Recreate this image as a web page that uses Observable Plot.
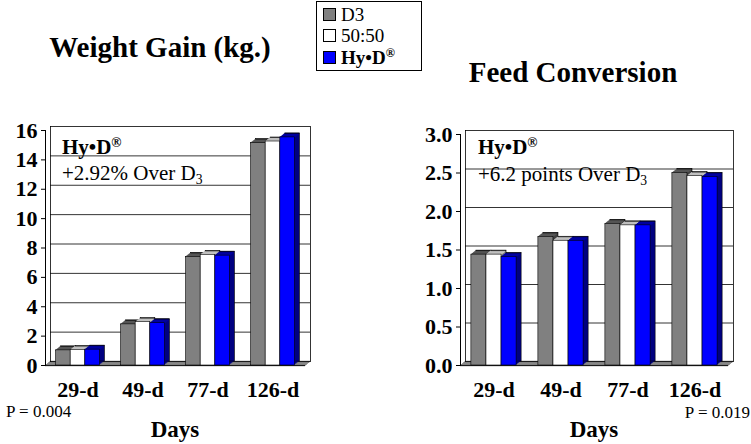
<!DOCTYPE html>
<html><head><meta charset="utf-8">
<script src="https://cdn.jsdelivr.net/npm/d3@7"></script>
<script src="https://cdn.jsdelivr.net/npm/@observablehq/plot@0.6"></script>
<style>
body{margin:0;background:#fff;}
#wrap{position:relative;width:751px;height:444px;overflow:hidden;font-family:"Liberation Serif","Times New Roman",serif;color:#000;background:#fff;}
#wrap svg{position:absolute;left:0;top:0;}
#wrap svg text, #wrap svg g[aria-label$="tick label"]{font-family:"Liberation Serif","Times New Roman",serif !important;font-weight:bold !important;font-size:22px !important;font-variant:normal !important;}
.t{position:absolute;white-space:nowrap;line-height:1;}
.b{font-weight:bold;}
sup{font-size:0.65em;vertical-align:0.55em;line-height:0;}
sub{font-size:0.65em;vertical-align:-0.3em;line-height:0;}
#legend{position:absolute;left:316px;top:1px;width:104px;height:68px;border:1px solid #000;background:#fff;}
#legend .row{position:absolute;left:6px;height:20px;display:flex;align-items:center;font-size:19px;line-height:1;}
#legend .sw{width:11px;height:11px;border:1px solid #000;margin-right:5px;}
</style></head><body><div id="wrap"></div>
<script>
// ---- data ----
const days = ["29-d", "49-d", "77-d", "126-d"];
const series = ["D3", "50:50", "Hy•D®"];
const gainD3   = [1.03, 2.80, 7.39, 15.14];
const gain5050 = [1.05, 2.95, 7.53, 15.25];
const gainHyD  = [1.08, 2.88, 7.48, 15.53];
const fcD3     = [1.44, 1.67, 1.84, 2.50];
const fc5050   = [1.44, 1.62, 1.82, 2.46];
const fcHyD    = [1.41, 1.62, 1.82, 2.45];
const gainTicks = [0, 2, 4, 6, 8, 10, 12, 14, 16];
const fcTicks   = [0, 0.5, 1.0, 1.5, 2.0, 2.5, 3.0];

// ---- styles ----
const frontColor = ["#808080", "#ffffff", "#0000ff"];
const topColor   = ["#555555", "#c0c0c0", "#0000a0"];
const sideColor  = ["#404040", "#808080", "#000080"];

const W = 751, H = 444;
const wrap = document.getElementById("wrap");

function chart({vals, ticks, fmt, mL, mR, mT, mB}) {
  const bw = (W - mL - mR) / days.length;
  const barW = bw * 0.225;
  const off = (bw - 3 * barW) / 2;
  const depth = 5, dz = 4;
  const rows = vals.map((arr, i) => arr.map((v, j) => ({day: days[j], value: v, series: series[i]})));
  const marks = [];
  // floor
  for (let k = 0; k <= depth; k++)
    marks.push(Plot.ruleY([0], {dx: k, dy: -k * dz / depth, stroke: "#808080", strokeWidth: 1.5}));
  marks.push(Plot.ruleY([0], {stroke: "#000", strokeWidth: 0.8}));
  marks.push(Plot.ruleY([0], {dx: depth, dy: -dz, stroke: "#000", strokeWidth: 0.8}));
  // back-wall gridlines
  marks.push(Plot.ruleY(ticks.filter(t => t > 0), {dx: depth, dy: -dz, stroke: "#000", strokeWidth: 0.8}));
  // walls
  marks.push(Plot.frame({anchor: "left", dx: depth, dy: -dz, stroke: "#000", strokeWidth: 0.8}));
  marks.push(Plot.frame({anchor: "right", dx: depth, dy: -dz, stroke: "#000", strokeWidth: 0.8}));
  marks.push(Plot.frame({anchor: "left", stroke: "#000", strokeWidth: 1}));
  rows.forEach((data, i) => {
    const inset = {insetLeft: off + i * barW, insetRight: bw - off - (i + 1) * barW};
    for (let k = 1; k <= depth; k++)
      marks.push(Plot.barY(data, {x: "day", y: "value", ...inset, dx: k, dy: -k * dz / depth, fill: sideColor[i]}));
    marks.push(Plot.barY(data, {x: "day", y: "value", ...inset, dx: depth, dy: -dz, fill: "none", stroke: "#000", strokeWidth: 0.6}));
    for (let k = 0; k < depth; k++)
      marks.push(Plot.tickY(data, {x: "day", y: "value", ...inset, dx: k, dy: -k * dz / depth, stroke: topColor[i], strokeWidth: 1.5}));
    marks.push(Plot.tickY(data, {x: "day", y: "value", ...inset, dx: depth, dy: -dz, stroke: "#000", strokeWidth: 0.6}));
    marks.push(Plot.barY(data, {x: "day", y: "value", ...inset, fill: frontColor[i], stroke: "#000", strokeWidth: 0.6}));
  });
  return Plot.plot({
    width: W, height: H,
    marginLeft: mL, marginRight: mR, marginTop: mT, marginBottom: mB,
    style: {fontFamily: "Liberation Serif, Times New Roman, serif", fontSize: "22px", fontWeight: "bold", background: "transparent", overflow: "visible"},
    x: {domain: days, padding: 0, tickSize: 0, tickPadding: 16, label: null},
    y: {domain: [ticks[0], ticks[ticks.length - 1]], ticks, tickFormat: fmt, tickSize: 4, tickPadding: 4, label: null},
    marks
  });
}

wrap.appendChild(chart({vals: [gainD3, gain5050, gainHyD], ticks: gainTicks, fmt: d3.format("d"), mL: 45, mR: 446, mT: 130, mB: 79}));
wrap.appendChild(chart({vals: [fcD3, fc5050, fcHyD], ticks: fcTicks, fmt: d3.format(".1f"), mL: 460, mR: 23, mT: 134, mB: 79}));

// ---- text (baseline-positioned: top = baseline - 0.8375*size) ----
function txt(html, {left, right, center, baseline, size, bold}) {
  const d = document.createElement("div");
  d.className = "t" + (bold ? " b" : "");
  d.innerHTML = html;
  d.style.fontSize = size + "px";
  d.style.top = (baseline - 0.8375 * size) + "px";
  if (left != null) d.style.left = left + "px";
  if (right != null) d.style.right = (W - right) + "px";
  if (center != null) { d.style.left = center + "px"; d.style.transform = "translateX(-50%)"; }
  wrap.appendChild(d);
}
txt("Weight Gain (kg.)", {center: 160, baseline: 57, size: 29, bold: true});
txt("Feed Conversion", {center: 573, baseline: 82, size: 29, bold: true});
txt("Hy•D<sup>®</sup>", {left: 62, baseline: 155, size: 21, bold: true});
txt("+2.92% Over D<sub>3</sub>", {left: 62, baseline: 181, size: 21});
txt("Hy•D<sup>®</sup>", {left: 478, baseline: 155, size: 21, bold: true});
txt("+6.2 points Over D<sub>3</sub>", {left: 478, baseline: 182, size: 21});
txt("P = 0.004", {left: 6, baseline: 417, size: 17});
txt("P = 0.019", {right: 750, baseline: 418, size: 17});
txt("Days", {center: 175, baseline: 437, size: 23, bold: true});
txt("Days", {center: 594, baseline: 437, size: 23, bold: true});

// ---- legend ----
const legend = document.createElement("div");
legend.id = "legend";
const legendLabels = ["D3", "50:50", "Hy•D<sup>®</sup>"];
series.forEach((s, i) => {
  const r = document.createElement("div");
  r.className = "row" + (i === 2 ? " b" : "");
  r.style.top = (2 + i * 21.5) + "px";
  r.innerHTML = `<span class="sw" style="background:${frontColor[i]}"></span><span>${legendLabels[i]}</span>`;
  legend.appendChild(r);
});
wrap.appendChild(legend);
</script></body></html>
